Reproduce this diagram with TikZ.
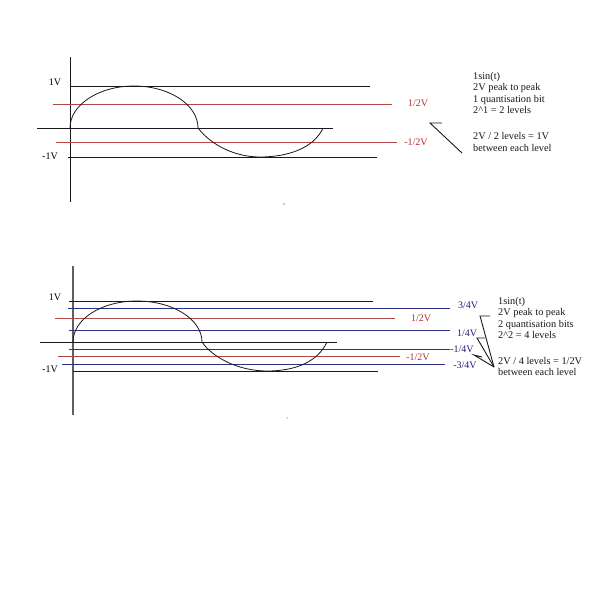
\documentclass[tikz,border=0pt]{standalone}
\usepackage{fontspec}
\setmainfont{Liberation Serif}
\definecolor{lvred}{RGB}{180,72,72}
\definecolor{txtred}{RGB}{185,45,45}
\definecolor{lvblue}{RGB}{48,48,128}
\definecolor{txtblue}{RGB}{30,30,115}
\definecolor{axgray}{RGB}{95,95,95}
\definecolor{ink}{RGB}{25,25,25}
\tikzset{
  blk/.style={draw=ink, line width=0.9pt},
  redl/.style={draw=lvred, line width=0.9pt},
  bluel/.style={draw=lvblue, line width=1pt},
  sine/.style={draw=ink, line width=0.8pt},
  arr/.style={draw=ink, line width=0.9pt, line join=miter},
  lbl/.style={font=\fontsize{10}{12}\selectfont, inner sep=0pt},
  note/.style={font=\fontsize{10.3}{12}\selectfont, inner sep=0pt, anchor=mid west, text=ink},
}
\begin{document}
\begin{tikzpicture}[x=1pt,y=-1pt]
\useasboundingbox[fill=white] (0,0) rectangle (609,600);

% ================= TOP DIAGRAM =================
\draw[blk] (70,57) -- (70,202);
\draw[blk] (70,86) -- (370,86);
\draw[redl] (53,104) -- (392,104);
\draw[blk] (37,128) -- (333,128);
\draw[redl] (56,142) -- (397,142);
\draw[blk] (68,157) -- (377,157);

\draw[sine] (70,128) .. controls (70,104.8) and (98.7,86) .. (134,86)
  .. controls (169.3,86) and (198,104.8) .. (198,128)
  .. controls (212,146) and (236,157) .. (260,157)
  .. controls (288,157) and (314,148) .. (323,128);

\node[lbl] (a1v) at (55,82) {1V};
\node[lbl] (am1v) at (50,156) {-1V};
\node[lbl, text=txtred] (ah) at (418,103) {1/2V};
\node[lbl, text=txtred] (amh) at (416,142) {-1/2V};

\node[note] (t1) at (473,77) {1sin(t)};
\node[note] (t2) at (473,88.5) {2V peak to peak};
\node[note] (t3) at (473,100) {1 quantisation bit};
\node[note] (t4) at (473,111.5) {2\textasciicircum 1 = 2 levels};
\node[note] (t5) at (473,137) {2V / 2 levels = 1V};
\node[note] (t6) at (473,149.5) {between each level};

\coordinate (atail) at (462,153);
\coordinate (atip) at (430,123);
\coordinate (abarb) at (442,123);
\draw[arr] (atail) -- (atip) -- (abarb);

\fill[ink] (284,204) circle (0.7);

% ================= BOTTOM DIAGRAM =================
\draw[draw=axgray, line width=1.2pt] (73,266) -- (73,415);
\draw[blk] (69,301) -- (373,301);
\draw[bluel] (68,308) -- (450,308);
\draw[redl] (55,318) -- (395,318);
\draw[bluel] (69,330) -- (450,330);
\draw[blk] (40,342) -- (337,342);
\draw[bluel] (69,349) -- (450,349);
\draw[redl] (58,356) -- (400,356);
\draw[bluel] (62,364) -- (445,364);
\draw[blk] (73,371) -- (378,371);

\draw[sine] (73,342) .. controls (73,319.4) and (101,301) .. (137,301)
  .. controls (173,301) and (202,319.4) .. (202,342)
  .. controls (212,357) and (238,371) .. (267,371)
  .. controls (297,371) and (318,361) .. (327,342);

\node[lbl] (b1v) at (55,297) {1V};
\node[lbl] (bm1v) at (50,369) {-1V};
\node[lbl, text=txtblue] (b34) at (468,305) {3/4V};
\node[lbl, text=txtred] (bh) at (421,318) {1/2V};
\node[lbl, text=txtblue] (b14) at (467,333) {1/4V};
\node[lbl, text=txtblue] (bm14) at (462,349) {-1/4V};
\node[lbl, text=txtred] (bmh) at (418,357) {-1/2V};
\node[lbl, text=txtblue] (bm34) at (465,365) {-3/4V};

\node[note] (u1) at (498,302) {1sin(t)};
\node[note] (u2) at (498,313.5) {2V peak to peak};
\node[note] (u3) at (498,325) {2 quantisation bits};
\node[note] (u4) at (498,336.5) {2\textasciicircum 2 = 4 levels};
\node[note] (u5) at (498,362) {2V / 4 levels = 1/2V};
\node[note] (u6) at (498,373.5) {between each level};

\coordinate (btail) at (494,367);
\coordinate (btip1) at (480,316);
\coordinate (bbarb1) at (490,316);
\coordinate (btip2) at (477,338);
\coordinate (bbarb2) at (485,338);
\coordinate (btip3) at (474,355);
\coordinate (bbarb3) at (482,357);
\draw[arr] (btail) -- (btip1) -- (bbarb1);
\draw[arr] (btail) -- (btip2) -- (bbarb2);
\draw[arr] (btail) -- (btip3) -- (bbarb3);

\fill[black!30] (287,418) circle (0.8);
\end{tikzpicture}
\end{document}
